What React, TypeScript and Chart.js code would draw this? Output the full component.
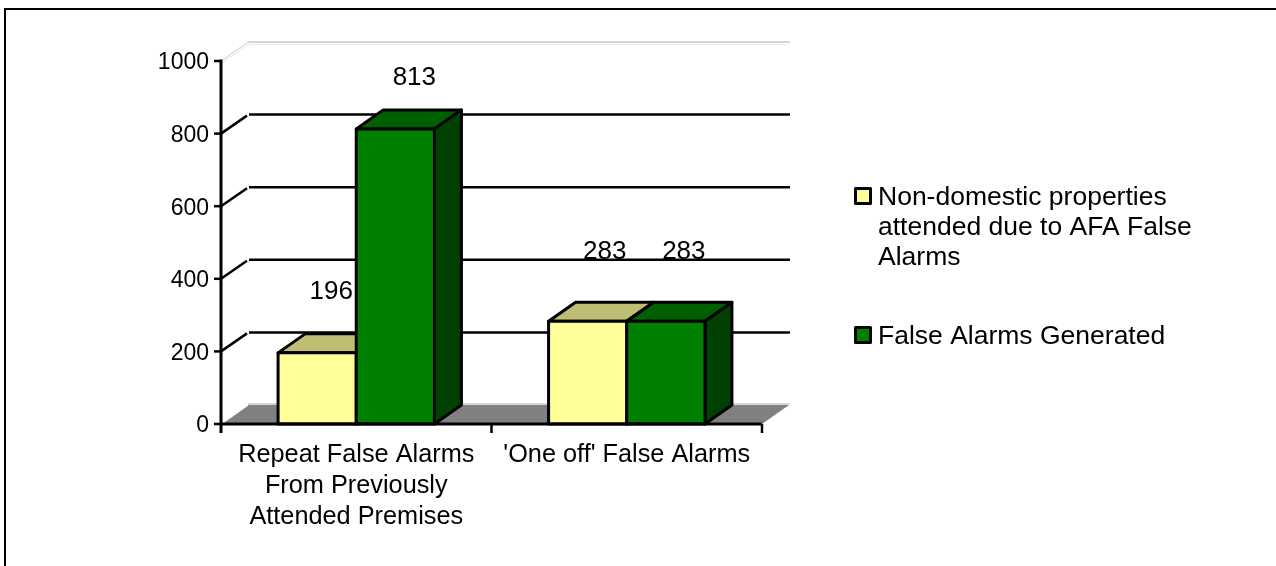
import React, { useEffect, useRef } from "react";
import { Chart, registerables } from "chart.js";

Chart.register(...registerables);

const categories = [
  ["Repeat False Alarms", "From Previously", "Attended Premises"],
  "'One off' False Alarms",
];
const nonDomesticLabel = ["Non-domestic properties", "attended due to AFA False", "Alarms"];
const falseAlarmsLabel = ["False Alarms Generated"];
const nonDomestic = [196, 283];
const falseAlarms = [813, 283];
const yTicks = [0, 200, 400, 600, 800, 1000];

const FONT = "'Liberation Sans', Arial, sans-serif";
const DX = 27;
const DY = -19;

const shade = {
  yellow: { front: "#ffff99", top: "#bfbf73", side: "#99995c" },
  green: { front: "#008000", top: "#006000", side: "#004000" },
};

function line(ctx: CanvasRenderingContext2D, x1: number, y1: number, x2: number, y2: number, color: string, w: number) {
  ctx.beginPath();
  ctx.moveTo(x1, y1);
  ctx.lineTo(x2, y2);
  ctx.strokeStyle = color;
  ctx.lineWidth = w;
  ctx.stroke();
}

function poly(ctx: CanvasRenderingContext2D, pts: number[][], fill: string, stroke?: string) {
  ctx.beginPath();
  pts.forEach((p, i) => (i ? ctx.lineTo(p[0], p[1]) : ctx.moveTo(p[0], p[1])));
  ctx.closePath();
  ctx.fillStyle = fill;
  ctx.fill();
  if (stroke) {
    ctx.strokeStyle = stroke;
    ctx.lineWidth = 3;
    ctx.lineJoin = "round";
    ctx.stroke();
  }
}

const wallPlugin = {
  id: "wall",
  beforeDatasetsDraw(chart: any) {
    const { ctx, chartArea: a, scales } = chart;
    const y = scales.y;
    ctx.save();
    // floor
    poly(ctx, [[a.left, a.bottom], [a.left + DX, a.bottom + DY], [a.right + DX, a.bottom + DY], [a.right, a.bottom]], "#808080");
    line(ctx, a.left, a.bottom, a.left + DX, a.bottom + DY, "#ffffff", 1.5);
    line(ctx, a.left + DX, a.bottom + DY - 1, a.right + DX + 1, a.bottom + DY - 1, "#c8c8c8", 1.5);
    // back gridlines and slanted side lines
    yTicks.forEach((v) => {
      if (v === 0) return;
      const py = y.getPixelForValue(v);
      if (v === 1000) {
        line(ctx, a.left, py, a.left + DX, py + DY, "#c8c8c8", 1);
        line(ctx, a.left + 1.5, py + 1.5, a.left + DX + 1.5, py + DY + 1.5, "#e0e0e0", 1);
        line(ctx, a.left + DX, py + DY, a.right + DX + 1, py + DY, "#c8c8c8", 1.5);
        line(ctx, a.left + DX, py + DY + 2.5, a.right + DX + 1, py + DY + 2.5, "#eeeeee", 1);
      } else {
        line(ctx, a.left, py, a.left + DX - 1, py + DY + 1, "#000000", 2.5);
        line(ctx, a.left + DX + 1, py + DY, a.right + DX + 1, py + DY, "#000000", 2.5);
      }
    });
    ctx.restore();
  },
};

const labelOffsets = [
  [{ dx: 14, dy: -54 }, { dx: 17, dy: -62 }],
  [{ dx: 19, dy: -44 }, { dx: 18, dy: -62 }],
];

const bar3dPlugin = {
  id: "bar3d",
  afterDatasetsDraw(chart: any) {
    const { ctx, scales, chartArea: a } = chart;
    ctx.save();
    const colors = [shade.yellow, shade.green];
    chart.data.datasets.forEach((_: any, di: number) => {
      chart.getDatasetMeta(di).data.forEach((b: any) => {
        const l = b.x - b.width / 2;
        const r = b.x + b.width / 2;
        const t = b.y;
        const bo = b.base;
        const c = colors[di];
        poly(ctx, [[l, t], [l + DX, t + DY], [r + DX, t + DY], [r, t]], c.top, "#000000");
        poly(ctx, [[r, t], [r + DX, t + DY], [r + DX, bo + DY], [r, bo]], c.side, "#000000");
        ctx.fillStyle = c.front;
        ctx.fillRect(l, t, r - l, bo - t);
        ctx.strokeStyle = "#000000";
        ctx.lineWidth = 3;
        ctx.lineJoin = "round";
        ctx.strokeRect(l, t, r - l, bo - t);
      });
    });
    // axes
    line(ctx, a.left, a.top - 1.5, a.left, a.bottom + 9, "#000000", 3);
    line(ctx, a.left, a.bottom, a.right, a.bottom, "#000000", 3);
    yTicks.forEach((v) => {
      const py = scales.y.getPixelForValue(v);
      line(ctx, a.left - 7, py, a.left, py, "#000000", 2.5);
    });
    const midX = (a.left + a.right) / 2;
    [midX, a.right].forEach((x) => line(ctx, x, a.bottom, x, a.bottom + 9, "#000000", 2.5));
    // value labels
    ctx.fillStyle = "#000000";
    ctx.font = `26px ${FONT}`;
    ctx.textAlign = "center";
    ctx.textBaseline = "alphabetic";
    chart.data.datasets.forEach((_: any, di: number) => {
      chart.getDatasetMeta(di).data.forEach((b: any, i: number) => {
        const val = chart.data.datasets[di].data[i];
        const o = labelOffsets[di][i];
        ctx.fillText(String(val), b.x + o.dx, b.y + o.dy);
      });
    });
    // legend
    ctx.textAlign = "left";
    ctx.font = `26.5px ${FONT}`;
    const lx = 855.5;
    const box = (y0: number, f: string) => {
      ctx.fillStyle = f;
      ctx.fillRect(lx, y0, 15, 15);
      ctx.strokeStyle = "#000000";
      ctx.lineWidth = 3;
      ctx.strokeRect(lx, y0, 15, 15);
    };
    box(188.5, shade.yellow.front);
    box(327.5, shade.green.front);
    ctx.fillStyle = "#000000";
    nonDomesticLabel.forEach((t, i) => ctx.fillText(t, 878, 205 + i * 30));
    falseAlarmsLabel.forEach((t) => ctx.fillText(t, 878, 344));
    // outer frame
    line(ctx, 4, 9, 1276, 9, "#000000", 2);
    line(ctx, 5, 8, 5, 566, "#000000", 2);
    ctx.restore();
  },
};

export default function App() {
  const ref = useRef<HTMLCanvasElement>(null);
  useEffect(() => {
    document.body.style.margin = "0";
    document.body.style.background = "#ffffff";
    const chart = new Chart(ref.current as HTMLCanvasElement, {
      type: "bar",
      data: {
        labels: categories as any,
        datasets: [
          { label: nonDomesticLabel.join(" "), data: nonDomestic, backgroundColor: shade.yellow.front, borderWidth: 0, barPercentage: 1, categoryPercentage: 0.578 },
          { label: falseAlarmsLabel.join(" "), data: falseAlarms, backgroundColor: shade.green.front, borderWidth: 0, barPercentage: 1, categoryPercentage: 0.578 },
        ],
      },
      options: {
        animation: false,
        responsive: false,
        layout: { padding: { left: 0, top: 61, right: 514, bottom: 0 } },
        plugins: { legend: { display: false }, tooltip: { enabled: false } },
        scales: {
          x: {
            grid: { display: false },
            border: { display: false },
            ticks: { color: "#000000", font: { family: FONT, size: 25.3, lineHeight: 1.225 }, maxRotation: 0, autoSkip: false, padding: 8 },
            afterFit: (s: any) => { s.height = 142; },
          },
          y: {
            min: 0,
            max: 1000,
            grid: { display: false },
            border: { display: false },
            ticks: { color: "#000000", font: { family: FONT, size: 23 }, stepSize: 200, padding: 4, labelOffset: 2, callback: (v: any) => String(v) },
            afterFit: (s: any) => { s.width = 221; },
          },
        },
      },
      plugins: [wallPlugin, bar3dPlugin],
    } as any);
    return () => chart.destroy();
  }, []);
  return (
    <div style={{ position: "absolute", left: 0, top: 0, width: 1276, height: 566 }}>
      <canvas ref={ref} width={1276} height={566} style={{ display: "block" }} />
    </div>
  );
}
